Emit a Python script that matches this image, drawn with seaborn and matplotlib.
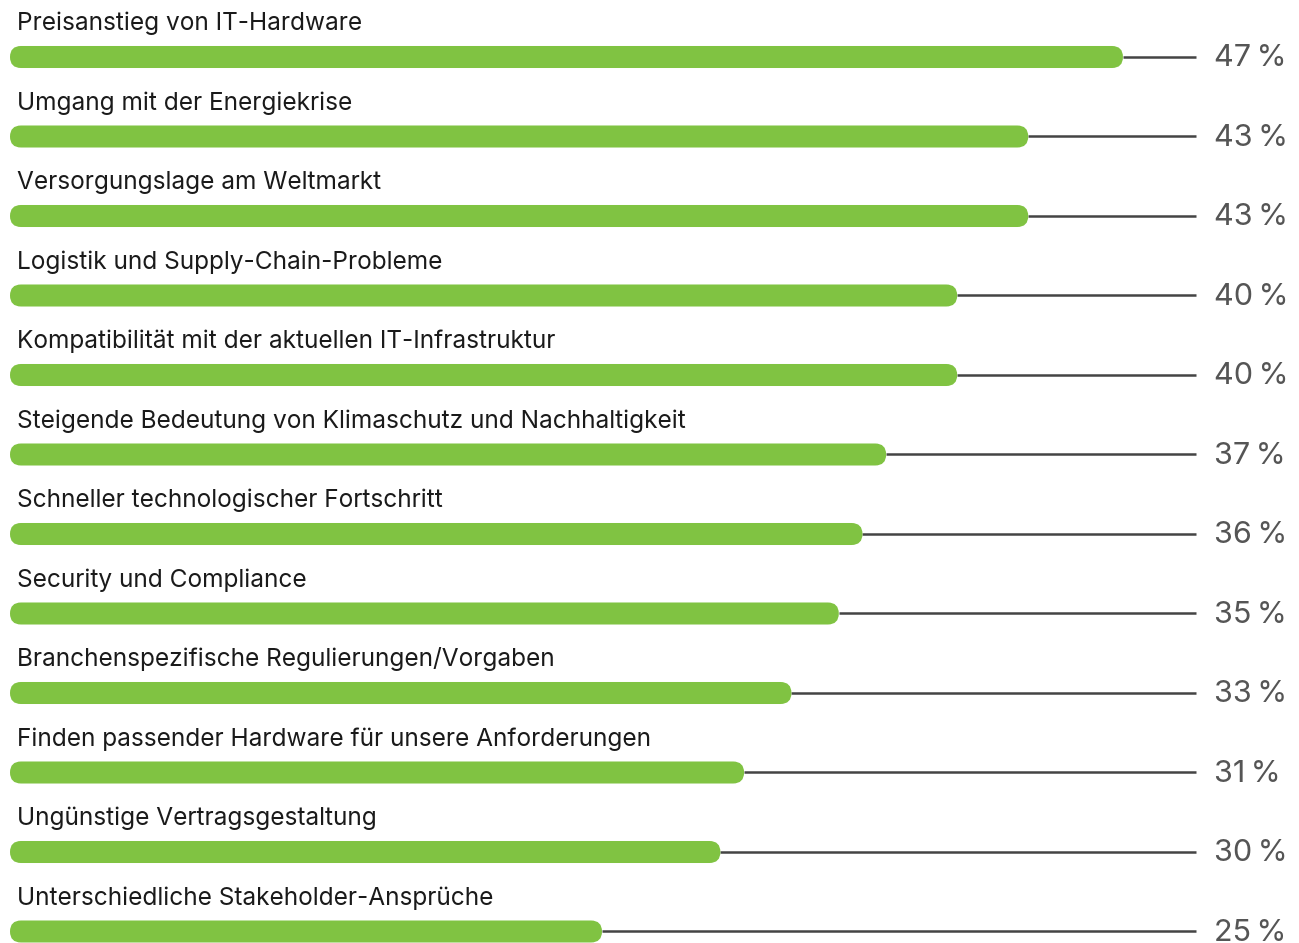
import matplotlib
matplotlib.use("Agg")
import matplotlib.pyplot as plt
import seaborn as sns
import pandas as pd
from matplotlib.patches import FancyBboxPatch

categories = [
    "Preisanstieg von IT-Hardware",
    "Umgang mit der Energiekrise",
    "Versorgungslage am Weltmarkt",
    "Logistik und Supply-Chain-Probleme",
    "Kompatibilität mit der aktuellen IT-Infrastruktur",
    "Steigende Bedeutung von Klimaschutz und Nachhaltigkeit",
    "Schneller technologischer Fortschritt",
    "Security und Compliance",
    "Branchenspezifische Regulierungen/Vorgaben",
    "Finden passender Hardware für unsere Anforderungen",
    "Ungünstige Vertragsgestaltung",
    "Unterschiedliche Stakeholder-Ansprüche",
]
values = [47, 43, 43, 40, 40, 37, 36, 35, 33, 31, 30, 25]
value_labels = [f"{v}\u2009%" for v in values]

W, H = 1299, 943
sns.set_theme(style="white")
plt.rcParams['font.family'] = ['Inter', 'DejaVu Sans']

fig = plt.figure(figsize=(W / 100, H / 100), dpi=100)
ax = fig.add_axes([0, 0, 1, 1])

df = pd.DataFrame({"cat": categories, "val": values})
sns.barplot(data=df, y="cat", x="val", orient="h", color="#80C342",
            width=0.277, ax=ax, saturation=1)

px_per_unit = 23.68
x0_px = 10
xmin = -x0_px / px_per_unit
xmax = xmin + W / px_per_unit
ax.set_xlim(xmin, xmax)
row_px = 79.5
first_px = 57
ax.set_ylim((H - first_px) / row_px, -first_px / row_px)
ax.axis("off")

line_end = (1196 - x0_px) / px_per_unit
label_x = (1214 - x0_px) / px_per_unit
cat_x = (17 - x0_px) / px_per_unit

bar_color = "#80C342"
patches = list(ax.patches)
aspect = px_per_unit / row_px
for p in patches:
    x, y = p.get_x(), p.get_y()
    w, h = p.get_width(), p.get_height()
    p.remove()
    r = (h / 2) / aspect
    fb = FancyBboxPatch((x, y), w, h,
                        boxstyle=f"round,pad=0,rounding_size={r}",
                        mutation_aspect=aspect,
                        facecolor=bar_color, edgecolor="none", zorder=3)
    ax.add_patch(fb)

for i, (cat, v, lab) in enumerate(zip(categories, values, value_labels)):
    ax.plot([v, line_end], [i, i], color="#444444", lw=1.8, zorder=2,
            solid_capstyle="butt")
    ax.text(label_x, i + 1.5 / row_px, lab, ha="left", va="center",
            fontsize=22, color="#555555")
    ax.text(cat_x, i - 26.5 / row_px, cat, ha="left",
            va="baseline", fontsize=17.6, color="#1a1a1a")

fig.savefig("out.png", dpi=100)
